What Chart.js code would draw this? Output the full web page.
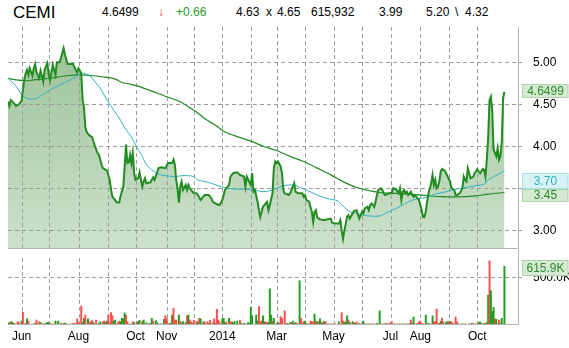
<!DOCTYPE html>
<html><head><meta charset="utf-8">
<script src="https://cdn.jsdelivr.net/npm/chart.js@4.4.0/dist/chart.umd.min.js"></script>
<style>
html,body{margin:0;padding:0;background:#fff;width:569px;height:348px;overflow:hidden;font-family:"Liberation Sans",Arial,sans-serif;}
.h{position:absolute;top:4px;font-size:12px;line-height:16px;color:#000;white-space:pre;}
#pc{position:absolute;left:0;top:0;}
#vc{position:absolute;left:0;top:250px;}
</style></head><body>
<span class="h" style="left:13px;top:2.5px;font-size:17px;line-height:20px">CEMI</span>
<span class="h" style="left:102px">4.6499</span>
<span class="h" style="left:158px;color:#e83b3b">↓</span>
<span class="h" style="left:176px;color:#2a9a2a">+0.66</span>
<span class="h" style="left:236px">4.63</span>
<span class="h" style="left:266px">x</span>
<span class="h" style="left:277px">4.65</span>
<span class="h" style="left:311px">615,932</span>
<span class="h" style="left:379px">3.99</span>
<span class="h" style="left:426px">5.20</span>
<span class="h" style="left:455px">\</span>
<span class="h" style="left:465px">4.32</span>
<canvas id="pc" width="569" height="250"></canvas>
<canvas id="vc" width="569" height="98"></canvas>
<script>
// x axis = trading-day index (0 = mid-May 2013)
const monthDays = [10,30,52,74,94,117,137,158,179,198,219,240,261,282,304,325,346];
const monthLabels = ['Jun','','Aug','','Oct','Nov','','2014','','Mar','','May','','Jul','Aug','','Oct'];
const priceTicks = [3.00,3.50,4.00,4.50,5.00];
const volTicks = [500];

const priceDays = [0,1,2,4,6,8,10,11,12,13,14,15,16,18,19,20,21,23,24,26,27,29,30,31,32,33,35,36,38,39,41,42,44,46,48,49,51,52,54,55,56,57,58,60,62,64,66,67,69,70,73,75,76,77,79,80,82,83,85,86,87,88,89,90,91,92,93,94,96,97,99,100,101,102,105,107,108,110,111,113,116,118,121,122,123,124,125,126,127,128,129,131,132,133,134,136,137,139,140,142,144,145,148,150,151,153,154,156,158,159,160,163,164,166,169,171,174,175,176,179,180,181,182,184,185,186,187,188,190,191,192,193,195,196,197,198,199,201,202,203,204,207,208,209,211,212,214,217,218,219,220,222,223,224,225,226,227,228,230,233,235,238,239,241,244,245,246,247,248,249,250,251,252,254,255,257,259,260,261,262,263,265,266,267,268,270,271,272,273,275,276,277,278,281,283,284,286,288,289,290,291,292,293,294,295,297,298,299,300,302,303,304,305,306,307,308,309,310,311,312,313,314,315,316,317,318,319,320,322,323,325,326,327,329,330,331,333,335,336,337,338,339,340,341,343,344,345,346,347,348,350,351,352,353,354,355,356,357,358,359,360,361,362,363,364,365,366];
const priceClose = [4.53,4.48,4.55,4.52,4.48,4.50,4.54,4.67,4.79,4.87,4.91,4.85,4.93,4.84,4.93,4.98,4.88,4.81,4.90,4.77,4.91,4.99,4.86,4.79,4.88,4.97,4.85,5.00,5.00,5.05,5.17,5.09,4.98,4.98,4.98,4.94,4.88,4.93,4.87,4.55,4.47,4.23,4.17,4.13,4.11,4.01,3.92,3.90,3.78,3.74,3.71,3.60,3.48,3.40,3.36,3.33,3.33,3.41,3.52,3.76,4.02,3.80,3.81,3.90,3.80,3.92,3.68,3.60,3.62,3.69,3.52,3.58,3.62,3.56,3.57,3.63,3.60,3.69,3.74,3.75,3.74,3.80,3.80,3.84,3.78,3.60,3.50,3.33,3.52,3.58,3.48,3.54,3.48,3.54,3.50,3.46,3.44,3.44,3.42,3.36,3.40,3.42,3.42,3.38,3.34,3.32,3.31,3.30,3.36,3.42,3.48,3.54,3.64,3.68,3.69,3.66,3.64,3.52,3.64,3.54,3.68,3.46,3.48,3.34,3.24,3.16,3.22,3.28,3.32,3.34,3.24,3.30,3.44,3.74,3.82,3.80,3.82,3.76,3.68,3.48,3.44,3.42,3.44,3.48,3.56,3.46,3.44,3.44,3.40,3.42,3.36,3.34,3.28,3.22,3.10,3.22,3.24,3.15,3.13,3.12,3.13,3.14,3.09,3.08,3.08,3.12,3.00,2.90,3.00,3.08,3.16,3.18,3.14,3.20,3.23,3.24,3.14,3.18,3.22,3.20,3.26,3.28,3.24,3.30,3.32,3.28,3.34,3.42,3.48,3.50,3.48,3.44,3.42,3.44,3.44,3.50,3.49,3.44,3.50,3.36,3.46,3.48,3.44,3.46,3.42,3.46,3.42,3.40,3.42,3.38,3.36,3.30,3.24,3.16,3.16,3.22,3.34,3.44,3.50,3.56,3.66,3.54,3.60,3.50,3.52,3.58,3.70,3.73,3.71,3.68,3.61,3.58,3.50,3.48,3.42,3.42,3.44,3.50,3.64,3.60,3.58,3.74,3.68,3.62,3.64,3.68,3.70,3.73,3.70,3.68,3.73,3.72,3.64,3.84,4.11,4.55,4.59,4.43,3.96,3.92,3.88,3.98,3.84,3.88,4.04,4.57,4.65];

const ma50Days = [0,4,8,10,14,17,21,26,31,36,41,46,51,54,58,61,64,68,73,78,83,86,91,95,99,102,106,111,116,123,128,133,137,140,148,155,160,167,175,184,188,193,198,203,211,215,220,228,235,243,247,252,257,262,267,274,278,286,293,300,308,315,323,330,337,345,351,354,358,362,366];
const ma50 = [4.81,4.75,4.67,4.61,4.57,4.56,4.57,4.62,4.67,4.71,4.75,4.79,4.84,4.87,4.86,4.83,4.77,4.69,4.55,4.43,4.31,4.22,4.11,3.99,3.88,3.78,3.72,3.67,3.65,3.64,3.65,3.65,3.64,3.60,3.57,3.53,3.51,3.49,3.49,3.47,3.46,3.47,3.50,3.53,3.54,3.51,3.48,3.42,3.38,3.35,3.29,3.22,3.20,3.18,3.17,3.17,3.20,3.26,3.32,3.37,3.39,3.43,3.46,3.49,3.51,3.53,3.55,3.60,3.64,3.67,3.71];

const ma200Days = [0,6,13,19,31,43,53,63,73,79,84,90,97,117,127,136,142,145,153,160,170,181,188,198,208,218,228,238,247,257,267,274,286,305,320,337,345,354,366];
const ma200 = [4.81,4.79,4.78,4.79,4.81,4.84,4.85,4.84,4.82,4.80,4.76,4.74,4.71,4.59,4.53,4.44,4.37,4.33,4.25,4.17,4.11,4.05,4.00,3.95,3.88,3.82,3.74,3.66,3.58,3.51,3.47,3.45,3.44,3.42,3.40,3.40,3.41,3.43,3.45];

const volDays = [0,1,2,3,4,5,7,8,10,11,13,14,15,19,20,21,23,24,26,28,29,30,31,33,35,37,39,41,42,43,46,48,49,51,52,54,55,56,57,59,60,61,62,63,65,67,68,70,71,72,73,74,75,76,77,78,79,81,82,83,84,85,86,87,88,90,92,93,95,96,97,99,100,102,104,105,106,107,109,110,112,113,115,116,117,119,120,121,122,123,124,126,127,128,129,131,132,133,134,135,136,137,139,140,141,142,144,145,147,148,149,151,152,153,154,155,156,158,159,160,161,163,164,165,166,167,169,171,172,174,175,177,178,179,180,183,184,185,186,187,188,189,190,191,192,193,194,195,196,198,199,200,201,202,204,205,206,208,209,210,211,212,213,215,216,217,218,219,220,222,223,224,225,226,227,228,229,230,231,232,233,234,236,238,240,241,244,246,247,248,249,250,251,252,254,255,256,257,259,260,262,263,265,266,268,270,272,274,275,277,278,279,281,282,283,285,287,289,291,293,294,296,297,298,299,301,302,303,304,305,306,308,309,310,311,313,314,315,316,317,318,319,320,321,323,324,325,326,327,328,330,331,332,335,337,340,342,343,345,347,348,349,351,352,353,354,355,356,357,358,359,360,362,363,364,366];
const volK = [11,18,25,25,11,7,25,18,35,131,11,57,35,4,11,46,25,18,7,11,18,21,7,4,35,35,14,11,14,4,4,7,11,57,18,195,18,64,99,57,18,28,39,18,46,11,25,25,35,18,35,99,11,124,89,35,46,18,35,25,64,57,121,99,25,4,25,18,21,28,43,32,46,18,7,11,64,35,39,18,4,4,53,89,67,11,11,99,170,46,46,99,28,11,28,18,89,99,46,25,11,43,28,25,64,57,25,25,25,11,43,18,57,11,160,46,25,57,64,18,25,64,25,25,18,28,35,46,11,11,4,18,11,184,90,99,35,188,25,35,89,25,25,18,18,376,99,35,64,11,18,11,82,64,142,4,11,18,18,35,11,18,11,461,64,11,28,35,11,4,35,28,18,110,35,25,25,57,18,18,28,28,4,4,4,4,25,121,35,18,25,89,46,18,28,18,11,25,11,4,35,4,4,4,4,4,11,142,4,4,4,11,4,18,25,4,4,4,4,4,4,11,46,11,78,4,11,25,35,11,4,99,4,11,4,89,25,28,163,11,11,35,64,25,18,28,28,25,25,11,78,25,4,4,4,4,11,11,4,18,25,11,11,11,18,312,674,358,135,181,57,53,46,11,64,615.9];
const volUp = [1,1,0,1,1,0,0,0,1,0,0,1,0,0,1,0,0,1,0,1,1,1,0,0,1,1,0,1,1,1,0,1,0,0,0,0,1,1,0,1,0,0,0,1,0,1,1,0,0,1,1,0,0,0,0,1,1,0,0,1,1,1,1,0,0,1,0,1,0,1,1,0,1,1,0,1,1,0,1,1,0,1,1,0,0,0,1,1,0,0,0,1,0,0,1,1,0,1,0,0,1,0,0,1,0,1,1,0,0,1,0,0,0,1,0,0,0,1,1,1,0,1,0,0,1,1,1,0,1,0,1,1,1,1,1,1,1,0,0,0,1,1,0,0,1,1,1,0,1,0,1,0,0,0,0,0,1,1,0,1,0,1,0,1,0,0,0,1,1,0,0,0,0,1,0,1,0,1,1,0,1,0,1,0,1,0,1,0,0,1,1,1,0,1,1,0,1,0,1,0,1,0,1,0,1,0,1,1,1,0,1,0,1,0,0,1,0,1,1,0,1,0,0,1,1,0,0,0,0,0,0,1,1,1,0,1,0,0,0,0,1,1,0,0,1,1,0,1,0,0,0,0,1,1,0,1,1,0,0,1,1,1,0,0,1,1,0,1,1,1,0,1,0,1,1,1];

const FONT = "'Liberation Sans', Arial, sans-serif";
Chart.defaults.font.family = FONT;
Chart.defaults.font.size = 12;
Chart.defaults.color = '#000';

const GRID = '#9c9c9c';
const BORDER = '#b4b4b4';
const xMin = 0, xMax = 376;

function pts(xs, ys){ return xs.map((d,i)=>({x:d, y:ys[i]})); }

// dashed grid drawn from the chart's own scale ticks + solid right/bottom frame
function gridPlugin(frameTop){
  return { id:'dashGrid',
    beforeDatasetsDraw(chart){
      const {ctx, chartArea:a, scales:{x, y}} = chart;
      ctx.save(); ctx.strokeStyle = GRID; ctx.lineWidth = 1; ctx.setLineDash([4,3]);
      x.ticks.forEach(t=>{ const px = Math.round(x.getPixelForValue(t.value)) + 0.5;
        ctx.beginPath(); ctx.moveTo(px, a.top); ctx.lineTo(px, a.bottom); ctx.stroke(); });
      y.ticks.forEach(t=>{ const py = Math.round(y.getPixelForValue(t.value)) + 0.5;
        ctx.beginPath(); ctx.moveTo(a.left, py); ctx.lineTo(a.right + 4, py); ctx.stroke(); });
      ctx.restore();
    },
    afterDatasetsDraw(chart){
      const {ctx, chartArea:a} = chart;
      ctx.save(); ctx.strokeStyle = BORDER; ctx.lineWidth = 1; ctx.setLineDash([]);
      const r = Math.round(a.right) + 0.5, b = Math.round(a.bottom) + 0.5;
      ctx.beginPath(); ctx.moveTo(a.left, b); ctx.lineTo(r, b); ctx.lineTo(r, frameTop); ctx.stroke();
      ctx.restore();
    }
  };
}

function boxPlugin(items){
  return { id:'valueBoxes', afterDraw(chart){
    const c = chart.ctx, ys = chart.scales.y;
    c.save();
    c.font = '12px ' + FONT; c.textAlign = 'center'; c.textBaseline = 'middle';
    items.forEach(it=>{
      const py = ys.getPixelForValue(it.value) + it.dy;
      const top = Math.round(py - it.h/2) + 0.5;
      c.fillStyle = it.bg; c.fillRect(522.5, top, 45.5, it.h);
      c.strokeStyle = it.bd; c.lineWidth = 1; c.strokeRect(522.5, top, 45.5, it.h);
      c.fillStyle = it.fg; c.fillText(it.text, 545.5, top + it.h/2 + 0.5);
    });
    c.restore();
  }};
}

const noPad = s => { s.paddingTop = 0; s.paddingBottom = 0; s.paddingLeft = 0; s.paddingRight = 0; };

const xScale = (showLabels, hAfter) => ({
  type:'linear', min:xMin, max:xMax, offset:false,
  grid:{display:false, drawTicks:false, offset:false},
  border:{display:false},
  afterBuildTicks:s=>{ s.ticks = monthDays.map(v=>({value:v})); },
  afterFit:s=>{ s.height = hAfter; noPad(s); },
  ticks:{display:showLabels, autoSkip:false, maxRotation:0, padding:5,
    callback:(v,i)=>monthLabels[i] || ''}
});
const yScaleBase = {
  position:'right',
  grid:{display:false, drawTicks:false},
  border:{display:false},
  afterFit:s=>{ s.width = 51; noPad(s); }
};

new Chart(document.getElementById('pc'), {
  type:'line',
  data:{datasets:[
    {data:pts(priceDays, priceClose), borderColor:'#228b22', borderWidth:2, pointRadius:0, tension:0, order:0,
     fill:'start',
     backgroundColor:(ctx)=>{
       const a = ctx.chart.chartArea; if(!a) return 'rgba(60,140,50,0.35)';
       const g = ctx.chart.ctx.createLinearGradient(0,a.top,0,a.bottom);
       g.addColorStop(0,'rgba(50,130,45,0.50)'); g.addColorStop(1,'rgba(60,140,55,0.26)'); return g; }},
    {data:pts(ma50Days, ma50), borderColor:'#2ab5c2', borderWidth:1, pointRadius:0, tension:0.3, fill:false, order:1},
    {data:pts(ma200Days, ma200), borderColor:'#1f8a1f', borderWidth:1.2, pointRadius:0, tension:0.3, fill:false, order:2}
  ]},
  options:{
    responsive:false, animation:false, devicePixelRatio:1,
    layout:{padding:{left:8, top:27, right:0, bottom:1.7}},
    plugins:{legend:{display:false}, tooltip:{enabled:false}, filler:{drawTime:'beforeDatasetsDraw'}},
    scales:{
      x: xScale(false, 0),
      y: Object.assign({}, yScaleBase, {min:2.786, max:5.42,
         afterBuildTicks:s=>{ s.ticks = priceTicks.map(v=>({value:v})); },
         ticks:{padding:15, callback:v=>Number(v).toFixed(2)}})
    }
  },
  plugins:[gridPlugin(27), boxPlugin([
    {value:4.6499, text:'4.6499', dy:-1.5, h:13, bg:'#d6ead3', bd:'#aed2aa', fg:'#2f8a2f'},
    {value:3.70, text:'3.70', dy:9, h:15, bg:'#d8f2f5', bd:'#a9e0e8', fg:'#2fb0c0'},
    {value:3.45, text:'3.45', dy:2.5, h:12, bg:'#d6ead3', bd:'#aed2aa', fg:'#2f8a2f'}
  ])]
});

new Chart(document.getElementById('vc'), {
  type:'bar',
  data:{datasets:[{data:pts(volDays, volK), backgroundColor:volUp.map(u=>u?'#1f9e1f':'#ff4d4d'),
    barThickness:1.3, borderWidth:0}]},
  options:{
    responsive:false, animation:false, devicePixelRatio:1,
    layout:{padding:{left:8, top:8, right:0, bottom:0}},
    plugins:{legend:{display:false}, tooltip:{enabled:false}},
    scales:{
      x: xScale(true, 23.7),
      y: Object.assign({}, yScaleBase, {min:0, max:705,
         afterBuildTicks:s=>{ s.ticks = volTicks.map(v=>({value:v})); },
         ticks:{padding:15, callback:v=>Number(v).toFixed(1)+'K'}})
    }
  },
  plugins:[gridPlugin(0), boxPlugin([
    {value:615.9, text:'615.9K', dy:1, h:15, bg:'#d6ead3', bd:'#aed2aa', fg:'#2f8a2f'}
  ])]
});
</script>
</body></html>
